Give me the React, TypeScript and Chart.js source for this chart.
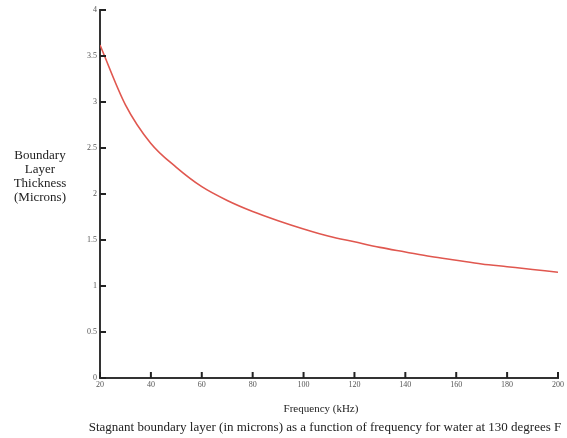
import React, { useEffect, useRef } from "react";
import { Chart, registerables } from "chart.js";

Chart.register(...registerables);

const frequencies = [20, 30, 40, 50, 60, 70, 80, 90, 100, 110, 120, 130, 140, 150, 160, 170, 180, 190, 200];
const thickness = [3.62, 2.97, 2.55, 2.29, 2.08, 1.93, 1.81, 1.71, 1.62, 1.54, 1.48, 1.42, 1.37, 1.32, 1.28, 1.24, 1.21, 1.18, 1.15];
const yTitleLines = ["Boundary", "Layer", "Thickness", "(Microns)"];
const xTitle = "Frequency (kHz)";
const caption = "Stagnant boundary layer (in microns) as a function of frequency for water at 130 degrees F";

const FONT = "'Liberation Serif', 'Times New Roman', serif";

const textPlugin = {
  id: "textPlugin",
  afterDraw(chart: any) {
    const { ctx, chartArea, scales } = chart;
    ctx.save();
    // inward tick marks
    ctx.strokeStyle = "#222";
    ctx.lineWidth = 2;
    const ys = scales.y;
    ys.ticks.forEach((t: any) => {
      const py = ys.getPixelForValue(t.value);
      ctx.beginPath();
      ctx.moveTo(chartArea.left, py);
      ctx.lineTo(chartArea.left + 6, py);
      ctx.stroke();
    });
    const xs = scales.x;
    xs.ticks.forEach((t: any) => {
      const px = xs.getPixelForValue(t.value);
      ctx.beginPath();
      ctx.moveTo(px, chartArea.bottom);
      ctx.lineTo(px, chartArea.bottom - 6);
      ctx.stroke();
    });
    // y title
    ctx.fillStyle = "#222";
    ctx.textAlign = "center";
    ctx.textBaseline = "middle";
    ctx.font = `13px ${FONT}`;
    yTitleLines.forEach((line, i) => {
      ctx.fillText(line, 40, 156 + i * 14);
    });
    // x title
    ctx.font = `11px ${FONT}`;
    ctx.fillText(xTitle, 321, 409);
    // caption
    ctx.font = `13px ${FONT}`;
    ctx.fillText(caption, 325, 428);
    ctx.restore();
  },
};

export default function App() {
  const ref = useRef<HTMLCanvasElement | null>(null);
  useEffect(() => {
    if (!ref.current) return;
    const chart = new Chart(ref.current, {
      type: "line",
      data: {
        datasets: [
          {
            data: frequencies.map((f, i) => ({ x: f, y: thickness[i] })),
            borderColor: "#e0574f",
            borderWidth: 1.6,
            pointRadius: 0,
            cubicInterpolationMode: "monotone",
            fill: false,
          },
        ],
      },
      options: {
        responsive: false,
        animation: false,
        layout: { padding: { left: 70, right: 9, top: 10, bottom: 48 } },
        plugins: { legend: { display: false }, tooltip: { enabled: false }, title: { display: false } },
        scales: {
          x: {
            type: "linear",
            min: 20,
            max: 200,
            afterFit: (s: any) => {
              s.height = 12;
            },
            ticks: { stepSize: 20, padding: 2, color: "#555", font: { family: FONT, size: 8 }, maxRotation: 0 },
            grid: { drawOnChartArea: false, drawTicks: false },
            border: { color: "#333", width: 2 },
          },
          y: {
            min: 0,
            max: 4,
            afterFit: (s: any) => {
              s.width = 30;
            },
            ticks: {
              stepSize: 0.5,
              padding: 3,
              color: "#555",
              font: { family: FONT, size: 8 },
              callback: (v: any) => String(Number(v)),
            },
            grid: { drawOnChartArea: false, drawTicks: false },
            border: { color: "#333", width: 2 },
          },
        },
      },
      plugins: [textPlugin],
    });
    return () => chart.destroy();
  }, []);
  return (
    <div style={{ position: "absolute", left: 0, top: 0, width: 567, height: 438, background: "#fff" }}>
      <canvas ref={ref} width={567} height={438} style={{ width: 567, height: 438 }} />
    </div>
  );
}
